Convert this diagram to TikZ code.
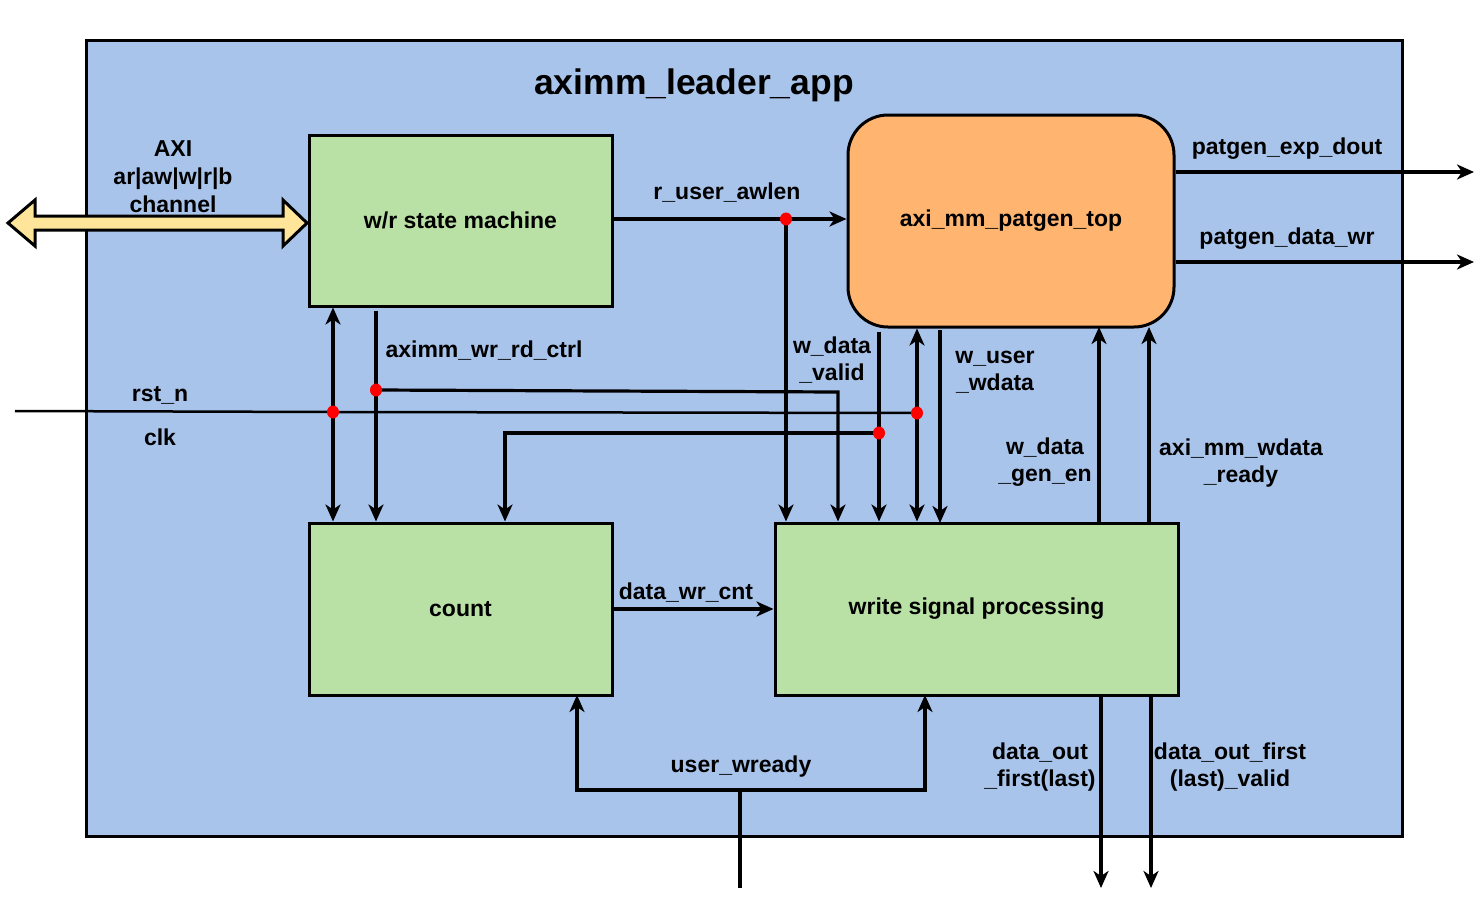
\documentclass[tikz,border=0pt]{standalone}
\usepackage{fontspec}
\setmainfont{Liberation Sans}
\usetikzlibrary{arrows.meta,shapes.geometric}
\definecolor{outerblue}{HTML}{A9C4EB}
\definecolor{blkgreen}{HTML}{B9E0A5}
\definecolor{pgorange}{HTML}{FFB570}
\definecolor{axiyellow}{HTML}{FFE599}
\begin{document}
\begin{tikzpicture}[x=1pt,y=-1pt,
  lbl/.style={font=\bfseries\fontsize{23}{27}\selectfont, align=center, inner sep=0pt, yshift=-2pt},
  blk/.style={draw=black, line width=3pt, fill=blkgreen, inner sep=0pt, font=\bfseries\fontsize{23}{27}\selectfont},
  pgbox/.style={draw=black, line width=3pt, fill=pgorange, rounded corners=40pt, inner sep=0pt, font=\bfseries\fontsize{23}{27}\selectfont},
  outerbox/.style={draw=black, line width=3pt, fill=outerblue, inner sep=0pt},
  sig/.style={line width=3.2pt, -{Stealth[length=17pt,width=15pt,inset=5pt]}},
  sigboth/.style={line width=3.2pt, {Stealth[length=17pt,width=15pt,inset=5pt]}-{Stealth[length=17pt,width=15pt,inset=5pt]}},
  wire/.style={line width=3.2pt},
  thinwire/.style={line width=2.5pt},
  dot/.style={ellipse, fill=red, inner sep=0pt, minimum width=12pt, minimum height=13pt}
]
\useasboundingbox (0,0) rectangle (1478,899);
\fill[white] (0,0) rectangle (1478,899);

% outer block
\node[outerbox, minimum width=1316pt, minimum height=795pt] (outer) at (744,438.5) {};
\node[lbl, font=\bfseries\fontsize{35.5}{40}\selectfont] (title) at (694,83) {aximm\_leader\_app};

% blocks
\node[blk, minimum width=303pt, minimum height=171pt] (wr) at (460.5,220.5) {w/r state machine};
\node[blk, minimum width=303pt, minimum height=172pt] (count) at (460.5,609) {count};
\node[blk, minimum width=403pt, minimum height=172pt] (wsp) at (976.5,609) {write signal processing};
\node[pgbox, minimum width=326pt, minimum height=212pt] (pg) at (1011,221) {axi\_mm\_patgen\_top};

% AXI double arrow
\draw[line width=3pt, fill=axiyellow, line join=miter]
  (8,223) -- (35,200) -- (35,216) -- (283,216) -- (283,200) -- (307,223)
  -- (283,246) -- (283,230) -- (35,230) -- (35,246) -- cycle;
\node[lbl, align=center, font=\bfseries\fontsize{23}{28}\selectfont] (axilbl) at (173,175) {AXI\\ar|aw|w|r|b\\channel};

% junctions
\coordinate (j1) at (786,219);
\coordinate (j2) at (879,433);
\coordinate (j3) at (917,413);
\coordinate (j4) at (333,412);
\coordinate (j5) at (376,390);
\coordinate (rstin) at (15,411);
\coordinate (c1) at (505,433);
\coordinate (c2) at (838,392);
\coordinate (uwin) at (740,888);
\coordinate (uwj) at (740,790);
\coordinate (o1) at (1474,172);
\coordinate (o2) at (1474,262);
\coordinate (o3) at (1101,888);
\coordinate (o4) at (1151,888);

% r_user_awlen
\draw[sig] (wr.east |- j1) -- (pg.west |- j1);
\draw[sig] (j1) -- (j1 |- wsp.north);

% w_data_valid to wsp and to count
\draw[sig] (j2 |- pg.south) ++(0,3) -- (j2 |- wsp.north);
\draw[sig] (j2) -- (c1) -- (c1 |- count.north);

% x=917 double arrow
\draw[sigboth] (j3 |- pg.south) -- (j3 |- wsp.north);
% rst_n
\draw[thinwire] (rstin) -- (j4) -- (j3);
% wr <-> count
\draw[sigboth] (j4 |- wr.south) -- (j4 |- count.north);
% aximm_wr_rd_ctrl
\draw[sig] (j5 |- wr.south) ++(0,3) -- (j5 |- count.north);
\draw[sig] (j5) -- (c2) -- (c2 |- wsp.north);
% w_user_wdata
\draw[sig] (940,330) -- (940,523);
% up to patgen
\draw[sig] (1099,523) -- (1099,327);
\draw[sig] (1149,523) -- (1149,327);
% outputs right
\draw[sig] (pg.east |- o1) -- (o1);
\draw[sig] (pg.east |- o2) -- (o2);
% data_wr_cnt
\draw[sig] (count.east) -- (wsp.west);
% user_wready
\draw[wire] (uwin) -- (uwj);
\draw[sig] (uwj) -- (577,790) -- (577,695);
\draw[sig] (uwj) -- (925,790) -- (925,695);
% bottom outputs
\draw[sig] (o3 |- wsp.south) -- (o3);
\draw[sig] (o4 |- wsp.south) -- (o4);

% junction dots
\node[dot] (d1) at (j1) {};
\node[dot] (d2) at (j2) {};
\node[dot] (d3) at (j3) {};
\node[dot] (d4) at (j4) {};
\node[dot] (d5) at (j5) {};

% labels
\node[lbl] (l1) at (727,191) {r\_user\_awlen};
\node[lbl] (l2) at (484,349) {aximm\_wr\_rd\_ctrl};
\node[lbl] (l3) at (832,358) {w\_data\\\_valid};
\node[lbl] (l4) at (995,370) {w\_user\\\_wdata};
\node[lbl] (l5) at (1045,460) {w\_data\\\_gen\_en};
\node[lbl] (l6) at (1241,461) {axi\_mm\_wdata\\\_ready};
\node[lbl] (l7) at (1287,147) {patgen\_exp\_dout};
\node[lbl] (l8) at (1287,237) {patgen\_data\_wr};
\node[lbl] (l9) at (686,591) {data\_wr\_cnt};
\node[lbl] (l10) at (741,765) {user\_wready};
\node[lbl] (l11) at (1040,765) {data\_out\\\_first(last)};
\node[lbl] (l12) at (1230,765) {data\_out\_first\\(last)\_valid};
\node[lbl] (l13) at (160,393) {rst\_n};
\node[lbl] (l14) at (160,435) {clk};
\end{tikzpicture}
\end{document}
